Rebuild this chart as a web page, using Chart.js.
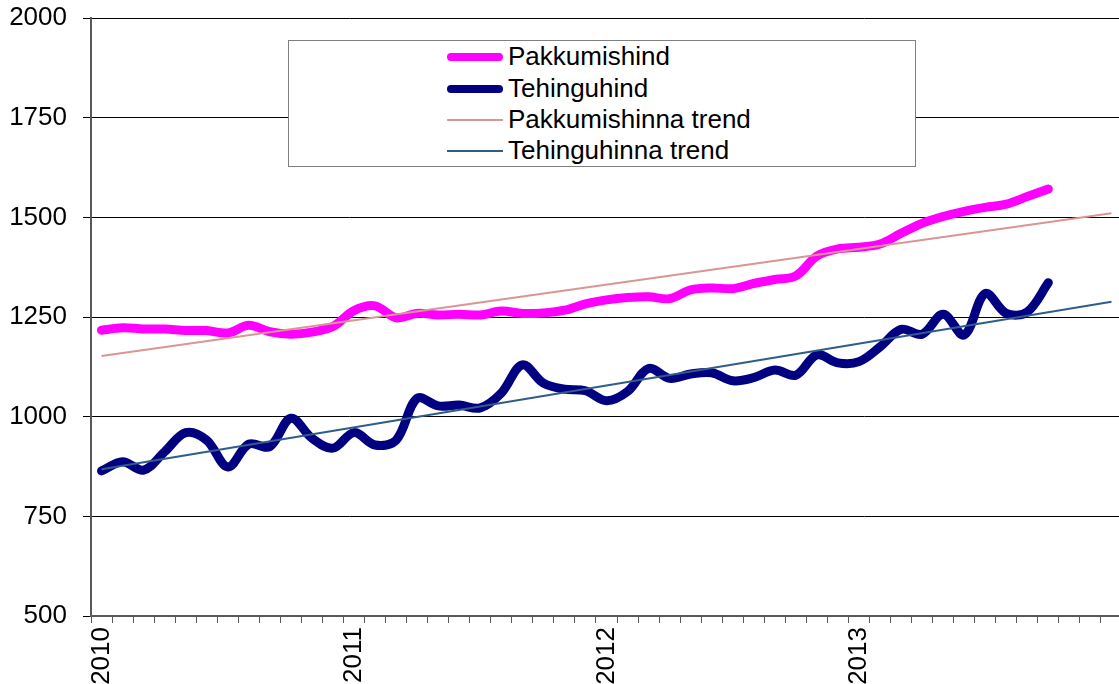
<!DOCTYPE html>
<html>
<head>
<meta charset="utf-8">
<script src="https://cdn.jsdelivr.net/npm/chart.js@4"></script>
<style>
  html, body { margin: 0; padding: 0; background: #fff; overflow: hidden; }
  #wrap { position: relative; width: 1122px; height: 684px; }
  #legend {
    position: absolute; left: 288px; top: 40px; width: 626px; height: 125px;
    border: 1px solid #808080; background: #fff;
    font-family: 'Liberation Sans', Arial, sans-serif; font-size: 26px; color: #000;
  }
  .row { position: absolute; left: 0; width: 100%; height: 31px; }
  .sw { position: absolute; left: 158px; width: 56px; border-radius: 4px; }
  .lbl { position: absolute; left: 219px; top: 0; line-height: 31px; white-space: nowrap; }
</style>
</head>
<body>
<div id="wrap">
  <canvas id="chart" width="1122" height="684"></canvas>
  <div id="legend"></div>
</div>
<script>
// kuud 2010 jaan ... 2014 jaan
const months = [
  '2010', '', '', '', '', '', '', '', '', '', '', '',
  '2011', '', '', '', '', '', '', '', '', '', '', '',
  '2012', '', '', '', '', '', '', '', '', '', '', '',
  '2013', '', '', '', '', '', '', '', '', '', '', '',
  ''
];

// pakkumishind, 2010 jaan - 2013 okt
const offerPrice = [
  1217, 1223, 1220, 1220, 1216, 1216, 1210, 1229, 1213, 1207, 1212, 1226,
  1266, 1278, 1248, 1259, 1255, 1257, 1255, 1265, 1259, 1260, 1267, 1283,
  1293, 1299, 1301, 1296, 1318, 1323, 1321, 1334, 1344, 1353, 1403, 1421,
  1425, 1433, 1460, 1485, 1502, 1515, 1525, 1533, 1552, 1571
];

// tehinguhind
const dealPrice = [
  864, 887, 866, 912, 960, 941, 874, 931, 925, 996, 946, 921,
  960, 929, 941, 1046, 1027, 1029, 1022, 1059, 1130, 1084, 1069, 1065,
  1040, 1063, 1121, 1096, 1107, 1110, 1090, 1098, 1117, 1104, 1155, 1135,
  1138, 1175, 1219, 1207, 1257, 1205, 1309, 1259, 1263, 1336
];

// trendijoonte otspunktid (kuu indeks)
const trendIdx = [0, 48];
const offerTrend = [1152, 1510];
const dealTrend = [868, 1288];

const yMin = 500;
const yMax = 2000;
const yStep = 250;

const font = { family: "'Liberation Sans', Arial, sans-serif", size: 26 };

function trendPoints(vals) {
  return trendIdx.map((x, i) => ({ x: x, y: vals[i] }));
}

const chart = new Chart(document.getElementById('chart'), {
  type: 'line',
  data: {
    labels: months,
    datasets: [
      {
        label: 'Pakkumishind',
        data: offerPrice,
        borderColor: '#FF00FF',
        backgroundColor: '#FF00FF',
        borderWidth: 9,
        tension: 0.35,
        pointRadius: 0,
        borderCapStyle: 'round',
        borderJoinStyle: 'round',
        order: 1
      },
      {
        label: 'Tehinguhind',
        data: dealPrice,
        borderColor: '#000080',
        backgroundColor: '#000080',
        borderWidth: 9,
        tension: 0.35,
        pointRadius: 0,
        borderCapStyle: 'round',
        borderJoinStyle: 'round',
        order: 1
      },
      {
        label: 'Pakkumishinna trend',
        data: trendPoints(offerTrend),
        xAxisID: 'xt',
        borderColor: '#D99694',
        backgroundColor: '#D99694',
        borderWidth: 2,
        tension: 0,
        pointRadius: 0,
        order: 0
      },
      {
        label: 'Tehinguhinna trend',
        data: trendPoints(dealTrend),
        xAxisID: 'xt',
        borderColor: '#2F5D8A',
        backgroundColor: '#2F5D8A',
        borderWidth: 2,
        tension: 0,
        pointRadius: 0,
        order: 0
      }
    ]
  },
  options: {
    responsive: false,
    animation: false,
    devicePixelRatio: 1,
    layout: { padding: { top: 18, left: 0, right: 0, bottom: 0 } },
    plugins: {
      legend: { display: false },
      tooltip: { enabled: false }
    },
    scales: {
      x: {
        type: 'category',
        offset: true,
        grid: { display: true, drawOnChartArea: false, offset: true, tickLength: 7, color: '#595959', lineWidth: 1 },
        border: { color: '#595959', width: 2 },
        ticks: { autoSkip: false, minRotation: 90, maxRotation: 90, padding: 4, color: '#000', font: font },
        afterFit: function (s) {
          s.height = 68;
          s.paddingLeft = 0;
          s.paddingRight = 0;
        }
      },
      xt: {
        type: 'linear',
        axis: 'x',
        position: 'bottom',
        display: false,
        min: -0.5,
        max: months.length - 0.5
      },
      y: {
        min: yMin,
        max: yMax,
        ticks: {
          stepSize: yStep, padding: 16, color: '#000', font: font,
          callback: function (v) { return String(v); }
        },
        grid: { color: '#000', lineWidth: 1, tickLength: 8 },
        border: { color: '#595959', width: 2 },
        afterFit: function (s) {
          s.width = 91;
          s.paddingTop = 0;
          s.paddingBottom = 0;
        }
      }
    }
  }
});

// legend kast
const legendEl = document.getElementById('legend');
const rowTops = [0, 32, 63, 94];
chart.data.datasets.forEach(function (ds, i) {
  const row = document.createElement('div');
  row.className = 'row';
  row.style.top = rowTops[i] + 'px';
  const sw = document.createElement('div');
  sw.className = 'sw';
  sw.style.background = ds.borderColor;
  sw.style.height = Math.min(ds.borderWidth, 8) + 'px';
  sw.style.top = (15.5 - Math.min(ds.borderWidth, 8) / 2) + 'px';
  if (ds.borderWidth < 4) sw.style.borderRadius = '0';
  const lbl = document.createElement('div');
  lbl.className = 'lbl';
  lbl.textContent = ds.label;
  row.appendChild(sw);
  row.appendChild(lbl);
  legendEl.appendChild(row);
});
</script>
</body>
</html>
